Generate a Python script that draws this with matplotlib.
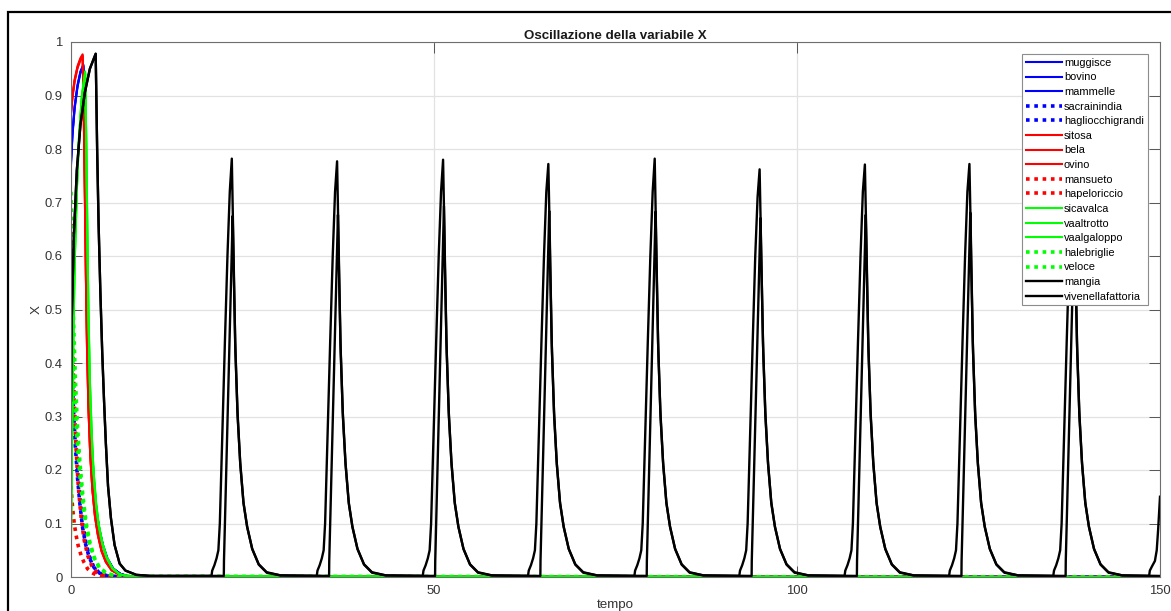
import matplotlib
matplotlib.use("Agg")
import matplotlib.pyplot as plt
from matplotlib.patches import Rectangle

# ---------------- data ----------------
labels = ["muggisce", "bovino", "mammelle", "sacrainindia", "hagliocchigrandi",
          "sitosa", "bela", "ovino", "mansueto", "hapeloriccio",
          "sicavalca", "vaaltrotto", "vaalgaloppo", "halebriglie", "veloce",
          "mangia", "vivenellafattoria"]

# blue solid
t_blue = [0, 0.2, 0.5, 0.9, 1.3, 1.7, 1.9, 2.05, 2.2, 2.4, 2.6, 2.85, 3.15, 3.5, 3.9, 4.4, 5.0, 5.8, 6.8, 8.0, 150]
x_muggisce = [0.78, 0.83, 0.88, 0.92, 0.945, 0.958, 0.87, 0.72, 0.57, 0.43, 0.33, 0.25, 0.18, 0.125, 0.09, 0.06, 0.035, 0.016, 0.006, 0.001, 0]
x_bovino = [0.775, 0.828, 0.878, 0.918, 0.944, 0.956, 0.865, 0.715, 0.565, 0.425, 0.327, 0.248, 0.178, 0.124, 0.089, 0.059, 0.035, 0.016, 0.006, 0.001, 0]
x_mammelle = [0.77, 0.825, 0.875, 0.916, 0.942, 0.955, 0.86, 0.71, 0.56, 0.42, 0.325, 0.246, 0.177, 0.123, 0.088, 0.058, 0.034, 0.015, 0.006, 0.001, 0]
# blue dotted
t_bdot = [0, 0.15, 0.35, 0.6, 0.9, 1.2, 1.6, 2.0, 2.5, 3.1, 3.8, 4.8, 6.5, 150]
x_sacrainindia = [0.55, 0.45, 0.36, 0.28, 0.21, 0.155, 0.10, 0.068, 0.04, 0.02, 0.009, 0.003, 0.0005, 0]
x_hagliocchigrandi = [0.45, 0.38, 0.31, 0.245, 0.185, 0.14, 0.092, 0.062, 0.037, 0.019, 0.008, 0.002, 0.0005, 0]
# red solid
t_red = [0, 0.2, 0.5, 0.9, 1.3, 1.6, 1.75, 1.9, 2.05, 2.2, 2.4, 2.65, 2.95, 3.3, 3.7, 4.2, 4.8, 5.6, 6.6, 8.0, 150]
x_sitosa = [0.87, 0.9, 0.93, 0.955, 0.97, 0.977, 0.88, 0.73, 0.57, 0.44, 0.32, 0.23, 0.165, 0.115, 0.08, 0.05, 0.029, 0.013, 0.005, 0.001, 0]
x_bela = [0.868, 0.898, 0.928, 0.953, 0.968, 0.975, 0.875, 0.725, 0.565, 0.435, 0.318, 0.228, 0.163, 0.114, 0.079, 0.049, 0.028, 0.013, 0.005, 0.001, 0]
x_ovino = [0.865, 0.896, 0.926, 0.951, 0.966, 0.973, 0.87, 0.72, 0.56, 0.43, 0.315, 0.226, 0.162, 0.113, 0.078, 0.048, 0.028, 0.012, 0.005, 0.001, 0]
# red dotted
t_rdot = [0, 0.1, 0.25, 0.45, 0.7, 1.0, 1.4, 1.8, 2.3, 2.9, 3.6, 4.5, 6.0, 150]
x_mansueto = [0.66, 0.53, 0.42, 0.32, 0.24, 0.17, 0.11, 0.07, 0.04, 0.02, 0.008, 0.003, 0.0005, 0]
x_hapeloriccio = [0.17, 0.15, 0.125, 0.1, 0.078, 0.058, 0.04, 0.027, 0.015, 0.008, 0.003, 0.001, 0, 0]
# green solid
t_green = [0, 0.1, 0.3, 0.5, 0.8, 1.1, 1.5, 1.95, 2.1, 2.25, 2.4, 2.6, 2.85, 3.1, 3.45, 3.8, 4.3, 4.9, 5.7, 6.7, 8.0, 150]
x_sicavalca = [0.07, 0.2, 0.42, 0.58, 0.72, 0.82, 0.9, 0.945, 0.82, 0.65, 0.50, 0.37, 0.27, 0.2, 0.14, 0.1, 0.065, 0.038, 0.017, 0.005, 0.001, 0]
x_vaaltrotto = [0.08, 0.21, 0.43, 0.585, 0.722, 0.821, 0.899, 0.943, 0.815, 0.645, 0.495, 0.365, 0.266, 0.197, 0.138, 0.098, 0.064, 0.037, 0.016, 0.005, 0.001, 0]
x_vaalgaloppo = [0.09, 0.22, 0.44, 0.59, 0.725, 0.822, 0.898, 0.94, 0.81, 0.64, 0.49, 0.36, 0.263, 0.195, 0.136, 0.097, 0.063, 0.036, 0.016, 0.005, 0.001, 0]
# green dotted
t_gdot = [0, 0.15, 0.35, 0.6, 0.9, 1.25, 1.65, 2.1, 2.6, 3.2, 3.9, 4.9, 6.5, 150]
x_halebriglie = [0.72, 0.6, 0.48, 0.37, 0.28, 0.21, 0.15, 0.10, 0.065, 0.037, 0.018, 0.007, 0.001, 0]
x_veloce = [0.5, 0.45, 0.38, 0.31, 0.245, 0.185, 0.135, 0.092, 0.06, 0.035, 0.017, 0.006, 0.001, 0]

# black: first transient (shared) then the periodic spikes
t_black0 = [0, 0.1, 0.4, 0.8, 1.3, 1.9, 2.6, 3.4, 3.6, 3.8, 4.05, 4.3, 4.55, 4.8, 5.1, 5.5, 6.0, 6.7, 7.5, 9.0, 11.0]
x_black0 = [0.33, 0.48, 0.64, 0.76, 0.845, 0.905, 0.95, 0.978, 0.80, 0.66, 0.53, 0.42, 0.33, 0.25, 0.17, 0.11, 0.06, 0.025, 0.012, 0.004, 0.002]

t_mangia_spikes = [
    19.35, 19.45, 19.75, 20.05, 20.3, 20.5, 20.85, 21.2, 21.55, 21.87, 22.15, 22.37, 22.61, 22.93, 23.3, 23.75, 24.25, 24.95, 25.85, 26.95, 28.85,
    33.85, 33.95, 34.25, 34.55, 34.8, 35.0, 35.35, 35.7, 36.05, 36.37, 36.65, 36.87, 37.11, 37.43, 37.8, 38.25, 38.75, 39.45, 40.35, 41.45, 43.35,
    48.45, 48.55, 48.85, 49.15, 49.4, 49.6, 49.95, 50.3, 50.65, 50.97, 51.25, 51.47, 51.71, 52.03, 52.4, 52.85, 53.35, 54.05, 54.95, 56.05, 57.95,
    62.95, 63.05, 63.35, 63.65, 63.9, 64.1, 64.45, 64.8, 65.15, 65.47, 65.75, 65.97, 66.21, 66.53, 66.9, 67.35, 67.85, 68.55, 69.45, 70.55, 72.45,
    77.6, 77.7, 78.0, 78.3, 78.55, 78.75, 79.1, 79.45, 79.8, 80.12, 80.4, 80.62, 80.86, 81.18, 81.55, 82.0, 82.5, 83.2, 84.1, 85.2, 87.1,
    92.05, 92.15, 92.45, 92.75, 93.0, 93.2, 93.55, 93.9, 94.25, 94.57, 94.85, 95.07, 95.31, 95.63, 96.0, 96.45, 96.95, 97.65, 98.55, 99.65, 101.55,
    106.55, 106.65, 106.95, 107.25, 107.5, 107.7, 108.05, 108.4, 108.75, 109.07, 109.35, 109.57, 109.81, 110.13, 110.5, 110.95, 111.45, 112.15, 113.05, 114.15, 116.05,
    120.95, 121.05, 121.35, 121.65, 121.9, 122.1, 122.45, 122.8, 123.15, 123.47, 123.75, 123.97, 124.21, 124.53, 124.9, 125.35, 125.85, 126.55, 127.45, 128.55, 130.45,
    135.3, 135.4, 135.7, 136.0, 136.25, 136.45, 136.8, 137.15, 137.5, 137.82, 138.1, 138.32, 138.56, 138.88, 139.25, 139.7, 140.2, 140.9, 141.8, 142.9, 144.8,
    148.5, 148.6, 148.9, 149.3, 149.55, 149.75, 150.0]
x_mangia_spikes = [
    0.002, 0.012, 0.022, 0.035, 0.05, 0.10, 0.27, 0.44, 0.60, 0.72, 0.782, 0.62, 0.44, 0.31, 0.215, 0.14, 0.095, 0.053, 0.024, 0.009, 0.003,
    0.002, 0.012, 0.022, 0.035, 0.05, 0.10, 0.27, 0.44, 0.60, 0.72, 0.777, 0.62, 0.44, 0.31, 0.215, 0.14, 0.095, 0.053, 0.024, 0.009, 0.003,
    0.002, 0.012, 0.022, 0.035, 0.05, 0.10, 0.27, 0.44, 0.60, 0.72, 0.780, 0.62, 0.44, 0.31, 0.215, 0.14, 0.095, 0.053, 0.024, 0.009, 0.003,
    0.002, 0.012, 0.022, 0.035, 0.05, 0.10, 0.27, 0.44, 0.60, 0.72, 0.772, 0.62, 0.44, 0.31, 0.215, 0.14, 0.095, 0.053, 0.024, 0.009, 0.003,
    0.002, 0.012, 0.022, 0.035, 0.05, 0.10, 0.27, 0.44, 0.60, 0.72, 0.782, 0.62, 0.44, 0.31, 0.215, 0.14, 0.095, 0.053, 0.024, 0.009, 0.003,
    0.002, 0.012, 0.022, 0.035, 0.05, 0.10, 0.27, 0.44, 0.60, 0.71, 0.762, 0.61, 0.44, 0.31, 0.215, 0.14, 0.095, 0.053, 0.024, 0.009, 0.003,
    0.002, 0.012, 0.022, 0.035, 0.05, 0.10, 0.27, 0.44, 0.60, 0.72, 0.771, 0.62, 0.44, 0.31, 0.215, 0.14, 0.095, 0.053, 0.024, 0.009, 0.003,
    0.002, 0.012, 0.022, 0.035, 0.05, 0.10, 0.27, 0.44, 0.60, 0.72, 0.772, 0.62, 0.44, 0.31, 0.215, 0.14, 0.095, 0.053, 0.024, 0.009, 0.003,
    0.002, 0.012, 0.022, 0.035, 0.05, 0.10, 0.27, 0.44, 0.60, 0.72, 0.778, 0.62, 0.44, 0.31, 0.215, 0.14, 0.095, 0.053, 0.024, 0.009, 0.003,
    0.002, 0.012, 0.02, 0.03, 0.05, 0.09, 0.15]

t_vive_spikes = [
    21.05, 21.07, 22.27, 22.4, 22.65, 22.95, 23.32, 23.77, 24.27, 24.97, 25.87, 26.97, 28.87,
    35.55, 35.57, 36.77, 36.9, 37.15, 37.45, 37.82, 38.27, 38.77, 39.47, 40.37, 41.47, 43.37,
    50.15, 50.17, 51.37, 51.5, 51.75, 52.05, 52.42, 52.87, 53.37, 54.07, 54.97, 56.07, 57.97,
    64.65, 64.67, 65.87, 66.0, 66.25, 66.55, 66.92, 67.37, 67.87, 68.57, 69.47, 70.57, 72.47,
    79.3, 79.32, 80.52, 80.65, 80.9, 81.2, 81.57, 82.02, 82.52, 83.22, 84.12, 85.22, 87.12,
    93.75, 93.77, 94.97, 95.1, 95.35, 95.65, 96.02, 96.47, 96.97, 97.67, 98.57, 99.67, 101.57,
    108.25, 108.27, 109.47, 109.6, 109.85, 110.15, 110.52, 110.97, 111.47, 112.17, 113.07, 114.17, 116.07,
    122.65, 122.67, 123.87, 124.0, 124.25, 124.55, 124.92, 125.37, 125.87, 126.57, 127.47, 128.57, 130.47,
    137.0, 137.02, 138.22, 138.35, 138.6, 138.9, 139.27, 139.72, 140.22, 140.92, 141.82, 142.92, 144.82,
    150.0]
x_vive_spikes = [
    0.002, 0.03, 0.675, 0.58, 0.42, 0.30, 0.21, 0.137, 0.093, 0.052, 0.023, 0.008, 0.003,
    0.002, 0.03, 0.677, 0.58, 0.42, 0.30, 0.21, 0.137, 0.093, 0.052, 0.023, 0.008, 0.003,
    0.002, 0.03, 0.693, 0.58, 0.42, 0.30, 0.21, 0.137, 0.093, 0.052, 0.023, 0.008, 0.003,
    0.002, 0.03, 0.684, 0.58, 0.42, 0.30, 0.21, 0.137, 0.093, 0.052, 0.023, 0.008, 0.003,
    0.002, 0.03, 0.683, 0.58, 0.42, 0.30, 0.21, 0.137, 0.093, 0.052, 0.023, 0.008, 0.003,
    0.002, 0.03, 0.671, 0.58, 0.42, 0.30, 0.21, 0.137, 0.093, 0.052, 0.023, 0.008, 0.003,
    0.002, 0.03, 0.677, 0.58, 0.42, 0.30, 0.21, 0.137, 0.093, 0.052, 0.023, 0.008, 0.003,
    0.002, 0.03, 0.681, 0.58, 0.42, 0.30, 0.21, 0.137, 0.093, 0.052, 0.023, 0.008, 0.003,
    0.002, 0.03, 0.680, 0.58, 0.42, 0.30, 0.21, 0.137, 0.093, 0.052, 0.023, 0.008, 0.003,
    0.002]

x_ticks = [0, 50, 100, 150]
y_ticks = [0, 0.1, 0.2, 0.3, 0.4, 0.5, 0.6, 0.7, 0.8, 0.9, 1]
y_ticklabels = ["0", "0.1", "0.2", "0.3", "0.4", "0.5", "0.6", "0.7", "0.8", "0.9", "1"]

# ---------------- drawing ----------------
plt.rcParams["font.family"] = ["Liberation Sans", "DejaVu Sans"]

W, H = 1171, 611
fig = plt.figure(figsize=(W / 100, H / 100), dpi=100)
fig.patch.set_facecolor("white")

# outer figure frame (runs off the right and bottom edges)
fig.add_artist(Rectangle((8 / W, -0.2), 1.2, 1 - 12 / H + 0.2, transform=fig.transFigure,
                         fill=False, edgecolor="black", linewidth=1.6, clip_on=False))

ax = fig.add_axes([71 / W, (H - 577) / H, (1160 - 71) / W, (577 - 42) / H])

DOT = (0, (1, 1.3))
series = [
    (t_blue, x_muggisce, "blue", "-"),
    (t_blue, x_bovino, "blue", "-"),
    (t_blue, x_mammelle, "blue", "-"),
    (t_bdot, x_sacrainindia, "blue", DOT),
    (t_bdot, x_hagliocchigrandi, "blue", DOT),
    (t_red, x_sitosa, "red", "-"),
    (t_red, x_bela, "red", "-"),
    (t_red, x_ovino, "red", "-"),
    (t_rdot, x_mansueto, "red", DOT),
    (t_rdot, x_hapeloriccio, "red", DOT),
    (t_green, x_sicavalca, "#00ff00", "-"),
    (t_green, x_vaaltrotto, "#00ff00", "-"),
    (t_green, x_vaalgaloppo, "#00ff00", "-"),
    (t_gdot, x_halebriglie, "#00ff00", DOT),
    (t_gdot, x_veloce, "#00ff00", DOT),
    (t_black0 + t_mangia_spikes, x_black0 + x_mangia_spikes, "black", "-"),
    (t_black0 + t_vive_spikes, x_black0 + x_vive_spikes, "black", "-"),
]
for (tt, xx, col, ls), lab in zip(series, labels):
    if ls != "-":
        lw = 2.6
    elif col == "black":
        lw = 1.7
    else:
        lw = 1.5
    ax.plot(tt, xx, color=col, linestyle=ls, linewidth=lw, label=lab)

ax.set_xlim(0, 150)
ax.set_ylim(0, 1)
ax.set_xticks(x_ticks)
ax.set_yticks(y_ticks)
ax.set_yticklabels(y_ticklabels)
ax.grid(True, color="#e2e2e2", linewidth=0.9)
ax.set_axisbelow(True)
ax.tick_params(direction="in", length=8, width=0.7, colors="#555555",
               labelcolor="#333333", labelsize=9.4,
               top=True, right=True, pad=6)
for sp in ax.spines.values():
    sp.set_color("#6e6e6e")
    sp.set_linewidth(0.8)

ax.set_title("Oscillazione della variabile X", fontsize=9.6, fontweight="bold",
             color="#1a1a1a", pad=2.5)
ax.set_xlabel("tempo", fontsize=9.6, color="#333333", labelpad=1)
ax.set_ylabel("X", fontsize=9.6, color="#333333", labelpad=1)

leg = ax.legend(loc="upper right", bbox_to_anchor=(0.9887, 0.9776), borderaxespad=0,
                fontsize=7.9, handlelength=3.3, handletextpad=0.15, labelspacing=0.42,
                borderpad=0.35, fancybox=False, framealpha=1, edgecolor="#8c8c8c")
leg.get_frame().set_linewidth(0.8)

fig.savefig("out.png", dpi=100)
